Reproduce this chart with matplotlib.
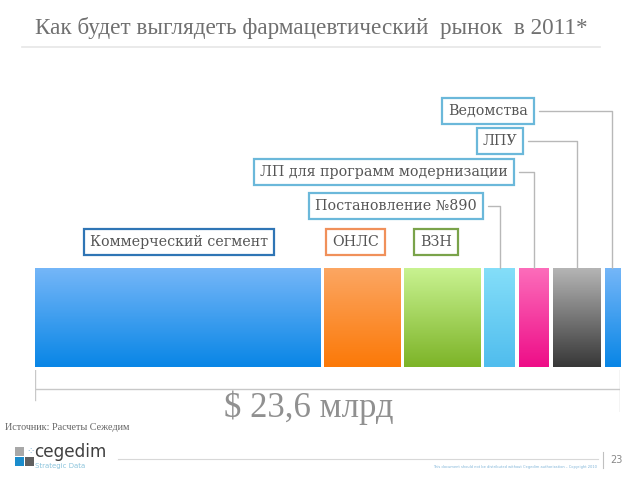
import numpy as np
import matplotlib
matplotlib.use('Agg')
import matplotlib.pyplot as plt
from matplotlib.colors import LinearSegmentedColormap

# market segments, bn USD
segments = ['Коммерческий сегмент', 'ОНЛС', 'ВЗН', 'Постановление №890',
            'ЛП для программ модернизации', 'ЛПУ', 'Ведомства']
values = [12.0, 3.2, 3.2, 1.3, 1.26, 2.0, 0.64]
total_label = '$ 23,6 млрд'
title = 'Как будет выглядеть фармацевтический  рынок  в 2011*'
source = 'Источник: Расчеты Сежедим'

top_colors = ['#74b6f8', '#fca662', '#c8f290', '#84def9', '#fc6cba', '#b4b4b4', '#74b6f8']
bot_colors = ['#0986e6', '#fb7908', '#7db428', '#50bdee', '#ee0e88', '#383838', '#0986e6']
box_colors = ['#2f75b5', '#f0905a', '#7aa34a', '#6bb8da', '#6bb8da', '#6bb8da', '#6bb8da']

SERIF = ['Liberation Serif', 'DejaVu Serif']
BOXFONT = ['DejaVu Serif']
GAP = 0.17

fig = plt.figure(figsize=(6.4, 4.8), dpi=100)
W, H = 640, 480


def fx(px):
    return px / W


def fy(py):
    return 1 - py / H


# title and underline
fig.text(fx(35), fy(28), title, fontsize=16.7, color='#707070', family=SERIF, va='center')
fig.add_artist(plt.Line2D([fx(22), fx(600)], [fy(47), fy(47)], color='#e6e6e6', lw=1.2))

# bar axes
ax = fig.add_axes([fx(35), fy(367), fx(620) - fx(35), (367 - 268) / H])
lefts = np.concatenate([[0], np.cumsum(np.array(values) + GAP)[:-1]])
total = lefts[-1] + values[-1]

bars = ax.barh([0.5] * len(values), values, left=lefts, height=1.0, color='none')
grad = np.linspace(0, 1, 64).reshape(-1, 1)
for bar, c0, c1 in zip(bars, top_colors, bot_colors):
    cmap = LinearSegmentedColormap.from_list('g', [c0, c1])
    x0 = bar.get_x()
    im = ax.imshow(grad, cmap=cmap, aspect='auto', extent=(x0, x0 + bar.get_width(), 0, 1),
                   origin='upper', zorder=1)
    im.set_clip_path(bar)
ax.set_ylim(0, 1)
ax.set_xlim(0, total)
ax.axis('off')

centers = lefts + np.array(values) / 2

# first three labels: plain boxes above their segments
lower_offsets = [(1, 26), (-7, 26), (-6, 26)]
for i in range(3):
    ax.annotate(segments[i], xy=(centers[i], 1), xycoords=('data', 'axes fraction'),
                xytext=lower_offsets[i], textcoords='offset pixels', ha='center', va='center',
                fontsize=10.3, color='#555555', family=BOXFONT,
                bbox=dict(boxstyle='square,pad=0.42', fc='white', ec=box_colors[i], lw=1.6))

# small segments: boxes with leader lines
label_pos = [(396, 206), (384, 172), (500, 141), (488, 111)]
for i, (px, py) in zip(range(3, 7), label_pos):
    ax.annotate(segments[i], xy=(centers[i], 1), xycoords=('data', 'axes fraction'),
                xytext=(px, H - py), textcoords='figure pixels', ha='center', va='center',
                fontsize=10.3, color='#555555', family=BOXFONT,
                bbox=dict(boxstyle='square,pad=0.42', fc='white', ec=box_colors[i], lw=1.6),
                arrowprops=dict(arrowstyle='-', color='#b8b8b8', lw=1.0, shrinkA=3, shrinkB=0,
                                connectionstyle='angle,angleA=0,angleB=90,rad=0'))

# total bracket below the bar
bx = fig.add_axes([fx(35), fy(412), fx(620) - fx(35), (412 - 370) / H])
bx.set_xlim(0, total)
bx.set_ylim(0, 1)
bx.axis('off')
bx.plot([0, total], [0.55, 0.55], color='#c8c8c8', lw=1.0)
bx.plot([0, 0], [0.29, 1], color='#c8c8c8', lw=1.0)
bx.plot([total, total], [0, 1], color='#c8c8c8', lw=1.0)
fig.text(fx(309), fy(408), total_label, fontsize=25, color='#909090', family=SERIF,
         ha='center', va='center')

# source note
fig.text(fx(5), fy(428), source, fontsize=7.3, color='#666666', family=SERIF, va='center')

# logo
for (x0, y0, c) in [(15, 447, '#a8a8a8'), (15, 457, '#1a8ccc'), (25, 457, '#606060')]:
    fig.add_artist(plt.Rectangle((fx(x0), fy(y0 + 9)), 9 / W, 9 / H, color=c, lw=0))
fig.text(fx(26), fy(451), '⁘', fontsize=7, color='#6aa8d0', va='center')
fig.text(fx(34), fy(452), 'cegedim', fontsize=12.2, color='#404040', family='DejaVu Sans', va='center')
fig.text(fx(35), fy(466), 'Strategic Data', fontsize=5, color='#8cc4dc', family='DejaVu Sans', va='center')

# footer
fig.add_artist(plt.Line2D([fx(118), fx(598)], [fy(459), fy(459)], color='#d8d8d8', lw=0.8))
fig.add_artist(plt.Line2D([fx(603), fx(603)], [fy(452), fy(468)], color='#c0c0c0', lw=0.8))
fig.text(fx(610), fy(460), '23', fontsize=7, color='#888888', va='center')
fig.text(fx(597), fy(467), 'This document should not be distributed without Cegedim authorization – Copyright 2010',
         fontsize=2.6, color='#7fb4d8', ha='right', va='center')

fig.savefig('out.png', dpi=100)
